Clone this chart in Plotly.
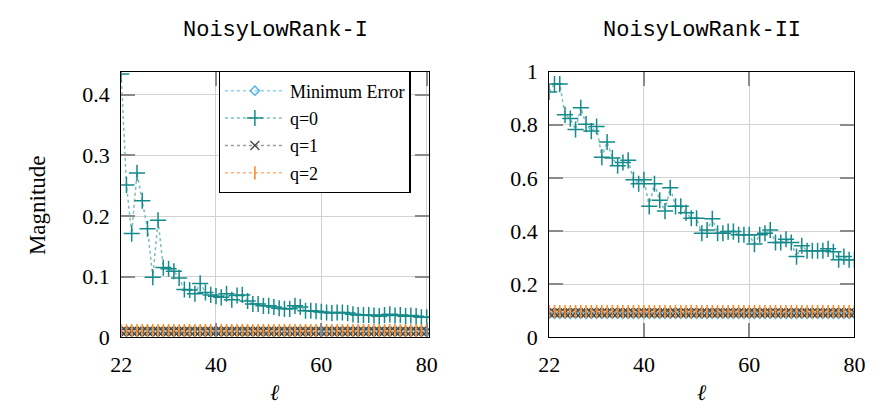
import plotly.graph_objects as go

ell = list(range(22, 81))

# NoisyLowRank-I
q0_I = [0.434, 0.251, 0.171, 0.271, 0.225, 0.179, 0.099, 0.193, 0.115, 0.113,
        0.109, 0.098, 0.079, 0.078, 0.072, 0.089, 0.074, 0.070, 0.068, 0.066,
        0.072, 0.062, 0.069, 0.070, 0.060, 0.055, 0.055, 0.052, 0.052, 0.050,
        0.048, 0.047, 0.047, 0.052, 0.050, 0.044, 0.044, 0.043, 0.042, 0.041,
        0.040, 0.041, 0.041, 0.040, 0.038, 0.037, 0.037, 0.037, 0.036, 0.035,
        0.037, 0.038, 0.036, 0.037, 0.035, 0.036, 0.035, 0.033, 0.033]
minerr_I = [0.0090] * 59
q1_I = [0.0100] * 59
q2_I = [0.0110] * 59

# NoisyLowRank-II
q0_II = [0.923, 0.953, 0.953, 0.837, 0.823, 0.782, 0.864, 0.802, 0.776, 0.793,
         0.678, 0.735, 0.675, 0.646, 0.658, 0.666, 0.593, 0.578, 0.593, 0.493,
         0.578, 0.516, 0.475, 0.563, 0.493, 0.493, 0.469, 0.448, 0.448, 0.392,
         0.404, 0.446, 0.392, 0.392, 0.398, 0.398, 0.386, 0.386, 0.386, 0.351,
         0.386, 0.392, 0.404, 0.357, 0.357, 0.369, 0.357, 0.304, 0.345, 0.326,
         0.326, 0.326, 0.326, 0.333, 0.322, 0.292, 0.304, 0.292, 0.292]
minerr_II = [0.088] * 59
q1_II = [0.093] * 59
q2_II = [0.097] * 59

series_names = ["Minimum Error", "q=0", "q=1", "q=2"]
marker_colors = ["#4db3ea", "#148a8a", "#4a4a4a", "#ff8a1e"]
line_colors = ["#8fd0f5", "#7fbcbc", "#9a9a9a", "#ffb27a"]
symbols = ["diamond-open", "cross-thin", "x-thin", "line-ns"]
sizes = [7, 11.5, 9, 9.5]
mwidth = [1.4, 1.5, 1.4, 1.6]

fig = go.Figure()

data_I = [minerr_I, q0_I, q1_I, q2_I]
data_II = [minerr_II, q0_II, q1_II, q2_II]

for i, name in enumerate(series_names):
    for j, (data, xa, ya) in enumerate([(data_I, "x", "y"), (data_II, "x2", "y2")]):
        fig.add_trace(go.Scatter(
            x=ell, y=data[i], xaxis=xa, yaxis=ya,
            mode="lines+markers", name=name, legendgroup=name,
            showlegend=(j == 0),
            line=dict(color=line_colors[i], width=1.5, dash="dot"),
            marker=dict(symbol=symbols[i], size=sizes[i], color=marker_colors[i],
                        line=dict(color=marker_colors[i], width=mwidth[i])),
        ))

W, H = 882, 420
dom_x1 = [113 / W, 429 / W]
dom_x2 = [552 / W, 865 / W]
dom_y = [1 - 346 / H, 1 - 63.3 / H]

tickfont = dict(family="Liberation Serif, DejaVu Serif, serif", size=22, color="black")
common_ax = dict(showline=True, linecolor="black", linewidth=1.2, mirror="ticks",
                 ticks="inside", ticklen=14, tickcolor="#8a8a8a", tickwidth=1.5,
                 showgrid=True, gridcolor="#d2d2d2", gridwidth=1, zeroline=False,
                 tickfont=tickfont)
x_ax = dict(common_ax, ticklabelstandoff=7)
y_ax = dict(common_ax, ticklabelstandoff=6)

fig.update_layout(
    width=W, height=H,
    margin=dict(l=0, r=0, t=0, b=0),
    paper_bgcolor="white", plot_bgcolor="white",
    xaxis=dict(domain=dom_x1, anchor="y", range=[22, 80.5],
               tickvals=[22, 40, 60, 80], ticktext=["22", "40", "60", "80"], **x_ax),
    yaxis=dict(domain=dom_y, anchor="x", range=[0, 0.438],
               tickvals=[0, 0.1, 0.2, 0.3, 0.4], ticktext=["0", "0.1", "0.2", "0.3", "0.4"],
               **y_ax),
    xaxis2=dict(domain=dom_x2, anchor="y2", range=[22, 80],
                tickvals=[22, 40, 60, 80], ticktext=["22", "40", "60", "80"], **x_ax),
    yaxis2=dict(domain=dom_y, anchor="x2", range=[0, 1.0],
                tickvals=[0, 0.2, 0.4, 0.6, 0.8, 1.0],
                ticktext=["0", "0.2", "0.4", "0.6", "0.8", "1"], **y_ax),
    legend=dict(x=213 / W, y=1 - 63 / H, xanchor="left", yanchor="top",
                bgcolor="white", bordercolor="black", borderwidth=1.2,
                font=dict(family="Liberation Serif, DejaVu Serif, serif", size=18, color="black"),
                traceorder="grouped", tracegroupgap=1, itemwidth=60),
    showlegend=True,
)

title_font = dict(family="Liberation Mono, DejaVu Sans Mono, monospace", size=22, color="black")
fig.add_annotation(text="NoisyLowRank-I", x=(113 + 429) / 2 / W, y=1 - 20 / H,
                   xref="paper", yref="paper", showarrow=False, font=title_font,
                   xanchor="center", yanchor="middle")
fig.add_annotation(text="NoisyLowRank-II", x=(552 + 865) / 2 / W, y=1 - 20 / H,
                   xref="paper", yref="paper", showarrow=False, font=title_font,
                   xanchor="center", yanchor="middle")
lab_font = dict(family="Liberation Serif, DejaVu Serif, serif", size=23, color="black")
fig.add_annotation(text="Magnitude", x=27 / W, y=1 - 205 / H, xref="paper", yref="paper",
                   showarrow=False, font=lab_font, textangle=-90,
                   xanchor="center", yanchor="middle")
ell_font = dict(family="DejaVu Serif, serif", size=22, color="black")
fig.add_annotation(text="<i>ℓ</i>", x=(113 + 429) / 2 / W, y=1 - 405 / H,
                   xref="paper", yref="paper", showarrow=False, font=ell_font,
                   xanchor="center", yanchor="middle")
fig.add_annotation(text="<i>ℓ</i>", x=(552 + 865) / 2 / W, y=1 - 405 / H,
                   xref="paper", yref="paper", showarrow=False, font=ell_font,
                   xanchor="center", yanchor="middle")

fig.write_html("out.html")
